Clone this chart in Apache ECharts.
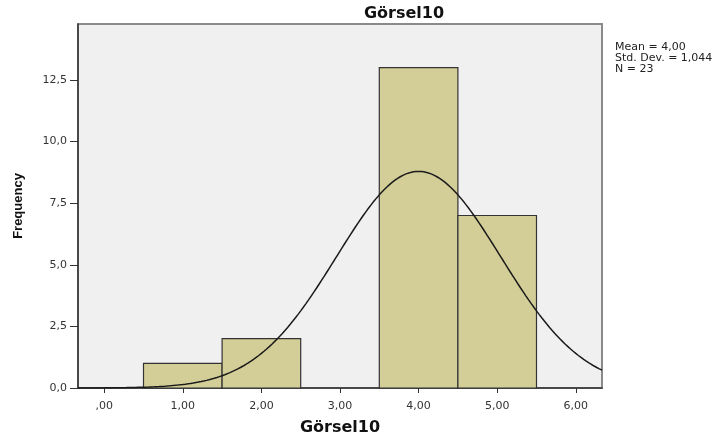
<!DOCTYPE html>
<html>
<head>
<meta charset="utf-8">
<script src="https://cdn.jsdelivr.net/npm/echarts@6/dist/echarts.min.js"></script>
<style>
  html, body { margin: 0; padding: 0; background: #ffffff; }
  #chart { width: 721px; height: 435px; }
</style>
</head>
<body>
<div id="chart"></div>
<script>
// Histogram of Görsel10 with fitted normal curve
const binCenters = [1, 2, 3, 4, 5];
const frequencies = [1, 2, 0, 13, 7];
const binWidth = 1;

const xTickValues = [0, 1, 2, 3, 4, 5, 6];
const yTickValues = [0, 2.5, 5, 7.5, 10, 12.5];

const statMean = 4.00;
const statStdDev = 1.044;
const statN = 23;

const xMin = -1 / 3;
const xMax = 19 / 3;
const yMax = 14.77;

// Normal curve scaled to counts, from the summary statistics
const curve = [];
for (let i = 0; i <= 200; i++) {
  const x = xMin + (xMax - xMin) * i / 200;
  const z = (x - statMean) / statStdDev;
  const y = statN * binWidth * Math.exp(-0.5 * z * z) / (statStdDev * Math.sqrt(2 * Math.PI));
  curve.push([x, y]);
}

const commaNum = (v, d) => v.toFixed(d).replace('.', ',');
const wideFont = '"DejaVu Sans", Verdana, sans-serif';
const narrowFont = '"Liberation Sans", Arial, sans-serif';

const chart = echarts.init(document.getElementById('chart'), null, { renderer: 'canvas' });

chart.setOption({
  animation: false,
  backgroundColor: '#ffffff',
  title: [
    {
      text: 'Görsel10',
      left: 399,
      top: 1,
      textAlign: 'center',
      textStyle: { fontFamily: wideFont, fontSize: 16, fontWeight: 'bold', color: '#111' }
    },
    {
      text: [
        'Mean = ' + commaNum(statMean, 2),
        'Std. Dev. = ' + commaNum(statStdDev, 3),
        'N = ' + statN
      ].join('\n'),
      left: 610,
      top: 37,
      textStyle: { fontFamily: wideFont, fontSize: 11, fontWeight: 'normal', color: '#222', lineHeight: 11 }
    }
  ],
  grid: {
    left: 78, right: 119, top: 24, bottom: 47,
    outerBoundsMode: 'none',
    containLabel: false,
    show: true,
    backgroundColor: '#f0f0f0',
    borderColor: '#8a8a8a',
    borderWidth: 2
  },
  xAxis: {
    type: 'value',
    min: xMin,
    max: xMax,
    name: 'Görsel10',
    nameLocation: 'middle',
    nameGap: 32,
    nameTextStyle: { fontFamily: wideFont, fontSize: 16, fontWeight: 'bold', color: '#111' },
    axisLine: { show: true, onZero: false, lineStyle: { color: '#333', width: 1.5 } },
    axisTick: { show: true, length: 5, customValues: xTickValues, lineStyle: { color: '#333' } },
    axisLabel: {
      customValues: xTickValues,
      margin: 13,
      fontFamily: wideFont, fontSize: 11, color: '#333',
      formatter: v => (v === 0 ? ',00' : commaNum(v, 2))
    },
    splitLine: { show: false }
  },
  yAxis: {
    type: 'value',
    min: 0,
    max: yMax,
    name: 'Frequency',
    nameLocation: 'middle',
    nameGap: 53,
    nameTextStyle: { fontFamily: narrowFont, fontSize: 13, fontWeight: 'bold', color: '#111' },
    axisLine: { show: true, onZero: false, lineStyle: { color: '#333', width: 1.5 } },
    axisTick: { show: true, length: 8, customValues: yTickValues, lineStyle: { color: '#333' } },
    axisLabel: {
      customValues: yTickValues,
      margin: 11,
      fontFamily: wideFont, fontSize: 11, color: '#333',
      formatter: v => commaNum(v, 1)
    },
    splitLine: { show: false }
  },
  series: [
    {
      type: 'custom',
      data: binCenters.map((c, i) => [c, frequencies[i]]),
      renderItem: (params, api) => {
        const c = api.value(0);
        const f = api.value(1);
        if (!f) return null;
        const p0 = api.coord([c - binWidth / 2, f]);
        const p1 = api.coord([c + binWidth / 2, 0]);
        return {
          type: 'rect',
          shape: { x: p0[0], y: p0[1], width: p1[0] - p0[0], height: p1[1] - p0[1] },
          style: { fill: '#d3ce98', stroke: '#333333', lineWidth: 1.2 }
        };
      },
      z: 2
    },
    {
      type: 'line',
      data: curve,
      showSymbol: false,
      smooth: false,
      lineStyle: { color: '#1a1a1a', width: 1.5 },
      z: 3
    }
  ]
});
</script>
</body>
</html>
